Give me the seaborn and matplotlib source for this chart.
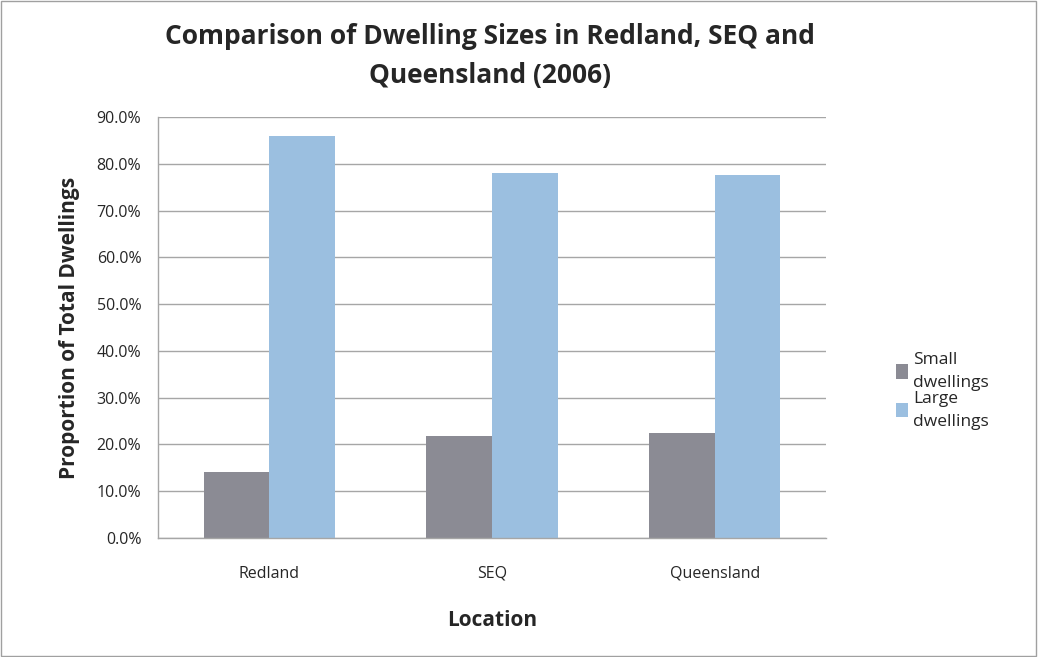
import pandas as pd
import matplotlib.pyplot as plt
import seaborn as sns
from matplotlib.patches import Patch, Rectangle

# Chart data
locations = ['Redland', 'SEQ', 'Queensland']
small_dwellings = [14.1, 21.9, 22.4]
large_dwellings = [85.9, 78.1, 77.6]
series_names = ['Small\ndwellings', 'Large\ndwellings']
y_ticks = [0, 10, 20, 30, 40, 50, 60, 70, 80, 90]
colors = ['#8B8B94', '#9BBFE0']

df = pd.DataFrame({
    'Location': locations * 2,
    'Series': [series_names[0]] * 3 + [series_names[1]] * 3,
    'Value': small_dwellings + large_dwellings,
})

sns.set_theme(style='white')
plt.rcParams['font.family'] = ['Open Sans', 'DejaVu Sans']

fig = plt.figure(figsize=(10.38, 6.57), dpi=100)
ax = fig.add_axes([158 / 1038, 1 - 538 / 657, (826 - 158) / 1038, (538 - 117) / 657])

sns.barplot(data=df, x='Location', y='Value', hue='Series', palette=colors,
            width=0.59, saturation=1, linewidth=0, ax=ax, legend=False)

ax.set_ylim(0, 90)
ax.set_yticks(y_ticks)
ax.set_yticklabels([f'{t:.1f}%' for t in y_ticks], fontsize=11.5)
ax.tick_params(axis='x', labelsize=11.5, pad=14)
ax.tick_params(axis='y', pad=6)
ax.yaxis.grid(True, color='#A6A6A6', linewidth=1)
ax.set_axisbelow(True)
for s in ['top', 'right']:
    ax.spines[s].set_visible(False)
for s in ['left', 'bottom']:
    ax.spines[s].set_color('#A6A6A6')
    ax.spines[s].set_linewidth(1)

ax.set_xlabel('Location', fontsize=15, fontweight='bold', labelpad=20)
ax.set_ylabel('Proportion of Total Dwellings', fontsize=15, fontweight='bold', labelpad=12)

fig.text(0.472, 0.915, 'Comparison of Dwelling Sizes in Redland, SEQ and\nQueensland (2006)',
         ha='center', va='center', fontsize=19, fontweight='bold', linespacing=1.6)

handles = [Patch(facecolor=c, edgecolor='none') for c in colors]
leg = fig.legend(handles, series_names, loc='center left', bbox_to_anchor=(0.848, 0.405),
                 frameon=False, fontsize=12.5, handlelength=0.7, handleheight=0.9,
                 handletextpad=0.3, labelspacing=0.0)
plt.setp(leg.get_texts(), linespacing=1.55)

# light frame around the whole chart area
fig.patches.append(Rectangle((0.001, 0.002), 0.997, 0.996, transform=fig.transFigure,
                             fill=False, edgecolor='#A0A0A0', linewidth=1))

fig.savefig('out.png', dpi=100)
